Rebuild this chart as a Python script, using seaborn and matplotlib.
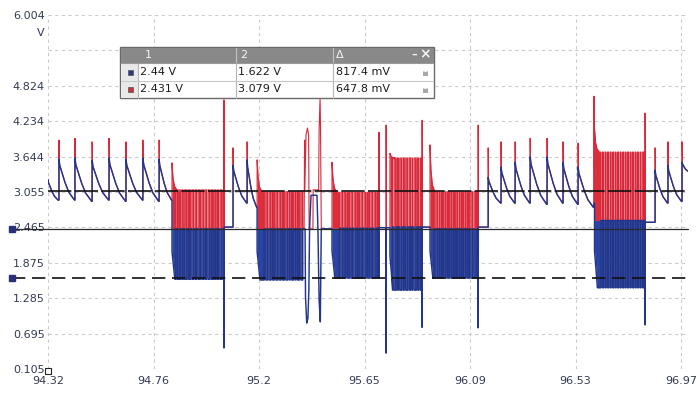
import numpy as np
import pandas as pd
import matplotlib
matplotlib.use("Agg")
import matplotlib.pyplot as plt
from matplotlib.patches import Rectangle, Arc
import seaborn as sns

# ---------------- axis ----------------
x_ticks = [94.32, 94.7625, 95.205, 95.6475, 96.09, 96.5325, 96.975]
x_tick_labels = ["94.32", "94.76", "95.2", "95.65", "96.09", "96.53", "96.97"]
y_ticks = [0.105, 0.695, 1.285, 1.875, 2.465, 3.055, 3.644, 4.234, 4.824, 5.414, 6.004]
y_tick_labels = ["0.105", "0.695", "1.285", "1.875", "2.465", "3.055", "3.644",
                 "4.234", "4.824", "", "6.004"]
x_range = [94.32, 97.004]
y_range = [0.105, 6.004]
y_unit = "V"

# ---------------- cursors ----------------
cursor_ch2_b = 3.079
cursor_a = 2.44
cursor_ch1_b = 1.622

# ---------------- cursor table ----------------
table_head = ["1", "2", "Δ"]
table_ch1 = ["2.44 V", "1.622 V", "817.4 mV"]
table_ch2 = ["2.431 V", "3.079 V", "647.8 mV"]

# ---------------- idle sawtooth teeth ----------------
tooth_peak_t = [94.320, 94.366, 94.433, 94.505, 94.576, 94.647, 94.718, 94.786,
                95.096, 95.155,
                96.166, 96.220, 96.279, 96.342, 96.413, 96.480, 96.543,
                96.866, 96.920, 96.979]
tooth_end_t = [94.362, 94.431, 94.503, 94.574, 94.645, 94.716, 94.784, 94.838,
               95.153, 95.195,
               96.218, 96.277, 96.340, 96.411, 96.478, 96.541, 96.607,
               96.918, 96.976, 97.004]
tooth_red_tip = [3.26, 3.92, 3.95, 3.89, 3.95, 3.89, 3.92, 3.92,
                 3.79, 3.89,
                 3.79, 3.89, 3.89, 3.95, 3.95, 3.89, 3.87,
                 3.79, 3.89, 3.89]
tooth_blue_peak = [3.26, 3.60, 3.62, 3.58, 3.62, 3.60, 3.62, 3.60,
                   3.50, 3.59,
                   3.30, 3.47, 3.55, 3.64, 3.64, 3.55, 3.47,
                   3.42, 3.50, 3.55]
tooth_trough = [2.92, 2.92, 2.90, 2.92, 2.90, 2.92, 2.90, 2.92,
                2.87, 2.80,
                2.87, 2.87, 2.87, 2.85, 2.87, 2.85, 2.80,
                2.87, 2.90, 3.40]
decay_pos = [0.0, 0.05, 0.17, 0.40, 0.64, 1.0]
decay_left = [1.0, 0.85, 0.70, 0.42, 0.19, 0.0]

# ---------------- message bursts ----------------
burst_start = [94.840, 95.197, 95.511, 95.754, 95.922, 96.612]
burst_end = [95.050, 95.388, 95.704, 95.884, 96.119, 96.819]
burst_red_kick = [3.54, 3.59, 3.55, 3.70, 3.84, 4.10]
burst_red_high = [3.09, 3.06, 3.05, 3.62, 3.06, 3.72]
burst_blue_low = [1.60, 1.59, 1.62, 1.42, 1.62, 1.46]
burst_rest = [2.44, 2.44, 2.45, 2.47, 2.44, 2.58]
burst_gaps = [
    [94.860, 94.878, 94.890, 94.906, 94.920, 94.934, 94.946, 94.962, 94.976,
     94.988, 95.002, 95.016, 95.028, 95.038],
    [95.230, 95.244, 95.258, 95.272, 95.286, 95.300, 95.314, 95.328, 95.338,
     95.352, 95.363, 95.377],
    [95.545, 95.559, 95.573, 95.587, 95.600, 95.615, 95.629, 95.642, 95.657,
     95.671, 95.684, 95.699],
    [95.768, 95.783, 95.792, 95.806, 95.817, 95.831, 95.843, 95.852, 95.867,
     95.877],
    [95.943, 95.957, 95.967, 95.981, 95.992, 96.006, 96.017, 96.031, 96.041,
     96.051, 96.065, 96.076, 96.090, 96.104],
    [96.642, 96.653, 96.663, 96.674, 96.684, 96.695, 96.705, 96.716, 96.726,
     96.737, 96.747, 96.758, 96.768, 96.779, 96.789, 96.800, 96.809],
]
gap_width = 0.0065
kick_off = [0.0, 0.004, 0.010, 0.020]
kick_left = [1.0, 0.45, 0.15, 0.0]
blue_settle = 0.012
blue_start_frac = 0.55

# ---------------- glitch spikes ----------------
spike_t = [95.058, 95.708, 95.738, 95.889, 96.124, 96.610, 96.824]
spike_red = [4.59, 4.05, 4.17, 4.25, 4.17, 4.65, 4.37]
spike_blue = [0.455, 1.62, 0.37, 0.80, 0.79, 2.87, 0.84]
spike_after = [2.47, 2.46, 2.46, 2.47, 2.47, 2.87, 2.55]

# ---------------- disturbed section ----------------
glitch_red_t = [95.394, 95.396, 95.397, 95.402, 95.408, 95.413, 95.415, 95.431,
                95.432, 95.455, 95.457, 95.461, 95.463, 95.466, 95.507]
glitch_red_v = [2.44, 3.92, 3.09, 4.00, 4.12, 4.00, 2.44, 2.44,
                3.09, 3.09, 4.09, 4.62, 4.09, 2.44, 2.44]
glitch_blue_t = [95.398, 95.400, 95.405, 95.410, 95.414, 95.417, 95.423, 95.448,
                 95.452, 95.457, 95.462, 95.466, 95.507]
glitch_blue_v = [2.44, 1.30, 0.87, 0.95, 1.42, 2.44, 3.00, 3.00,
                 2.44, 1.25, 0.89, 2.44, 2.44]

# ---------------- colours ----------------
red_line = "#d8283a"
blue_line = "#22368c"
red_fill = "#dd2c3a"
blue_fill = "#2a44a4"
label_col = "#333a55"

# ---------------- build traces ----------------
events = []
for i, t in enumerate(tooth_peak_t):
    events.append((t, 0, "tooth", i))
for i, t in enumerate(burst_start):
    events.append((t, 1, "burst", i))
for i, t in enumerate(spike_t):
    events.append((t, 2, "spike", i))
events.append((glitch_red_t[0], 3, "glitch", 0))
events.sort()

rt, rv, bt, bv = [], [], [], []
fills = []
for _, _, kind, i in events:
    if kind == "tooth":
        t0, t1 = tooth_peak_t[i], tooth_end_t[i]
        pk, tr = tooth_blue_peak[i], tooth_trough[i]
        ts = [t0 + p * (t1 - t0) for p in decay_pos]
        vs = [tr + f * (pk - tr) for f in decay_left]
        if bt:
            bt.append(t0); bv.append(bv[-1])
            rt.append(t0); rv.append(rv[-1])
        bt += ts; bv += vs
        rt += [t0, t0 + 0.0008] + ts[1:]
        rv += [tooth_red_tip[i], pk] + vs[1:]
    elif kind == "burst":
        t0, t1 = burst_start[i], burst_end[i]
        kick, hi = burst_red_kick[i], burst_red_high[i]
        lo, rest = burst_blue_low[i], burst_rest[i]
        g = burst_gaps[i]
        w = gap_width / 2
        r_t = [t0, t0]; r_v = [rv[-1], kick]
        for off, f in zip(kick_off[1:], kick_left[1:]):
            r_t.append(t0 + off); r_v.append(hi + f * (kick - hi))
        b_t = [t0, t0, t0 + blue_settle]
        b_v = [bv[-1], lo + blue_start_frac * (rest - lo), lo]
        for gc in g:
            r_t += [gc - w, gc - w, gc + w, gc + w]; r_v += [hi, rest, rest, hi]
            b_t += [gc - w, gc - w, gc + w, gc + w]; b_v += [lo, rest, rest, lo]
        r_t += [t1, t1]; r_v += [hi, rest]
        b_t += [t1, t1]; b_v += [lo, rest]
        fills.append((r_t, r_v, b_t, b_v, rest))
        rt += r_t; rv += r_v; bt += b_t; bv += b_v
    elif kind == "spike":
        t = spike_t[i]
        rt += [t, t, t + 0.0008]; rv += [rv[-1], spike_red[i], spike_after[i]]
        bt += [t, t, t + 0.0008]; bv += [bv[-1], spike_blue[i], spike_after[i]]
    else:
        rt += glitch_red_t; rv += glitch_red_v
        bt += glitch_blue_t; bv += glitch_blue_v

df_red = pd.DataFrame({"t": rt, "v": rv, "trace": "ch2"})
df_blue = pd.DataFrame({"t": bt, "v": bv, "trace": "ch1"})

# ---------------- figure ----------------
sns.set_style("white")
plt.rcParams["font.family"] = ["DejaVu Sans"]
fig = plt.figure(figsize=(6.99, 3.96), dpi=100)
ax = fig.add_axes([48 / 699, 27 / 396, 640 / 699, 354 / 396])

for r_t, r_v, b_t, b_v, rest in fills:
    ax.fill_between(r_t, rest, r_v, color=red_fill, lw=0, zorder=1.5)
    ax.fill_between(b_t, rest, b_v, color=blue_fill, lw=0, zorder=1.5)

sns.lineplot(data=df_red, x="t", y="v", color=red_line, sort=False,
             estimator=None, lw=0.8, legend=False, ax=ax, zorder=2)
sns.lineplot(data=df_blue, x="t", y="v", color=blue_line, sort=False,
             estimator=None, lw=1.05, legend=False, ax=ax, zorder=2.1)

ax.set_xlim(*x_range)
ax.set_ylim(*y_range)
ax.set_xticks(x_ticks)
ax.set_xticklabels(x_tick_labels)
ax.set_yticks(y_ticks)
ax.set_yticklabels(y_tick_labels)
ax.set_xlabel("")
ax.set_ylabel("")
for s in ax.spines.values():
    s.set_visible(False)
ax.grid(True, color="#cbcbcb", linestyle=(0, (3, 3)), lw=0.8)
ax.tick_params(axis="both", length=0, labelsize=8, colors=label_col)
ax.tick_params(axis="y", pad=2.5)
ax.tick_params(axis="x", pad=5)
ax.set_axisbelow(True)

# cursor lines
ytr = ax.get_yaxis_transform()
ax.plot([0, 1], [cursor_ch2_b, cursor_ch2_b], transform=ytr, color="#111111",
        lw=1.2, linestyle=(0, (14, 2)), zorder=3, clip_on=False)
ax.plot([-0.056, 1], [cursor_a, cursor_a], transform=ytr, color="#2a2a2a",
        lw=0.9, zorder=3, clip_on=False)
ax.plot([-0.056, 1], [cursor_ch1_b, cursor_ch1_b], transform=ytr, color="#111111",
        lw=1.2, linestyle=(0, (8, 4)), zorder=3, clip_on=False)
ax.plot([-0.056, -0.056], [cursor_a, cursor_ch1_b], transform=ytr, ls="none",
        marker="s", ms=4.5, color="#2a2f7a", zorder=4, clip_on=False)
ax.plot([0.0], [0.065], transform=ytr, ls="none", marker="s", ms=5,
        mfc="white", mec="#222222", mew=0.8, zorder=4, clip_on=False)

# unit label
fig.text(45 / 699, 1 - 33 / 396, y_unit, ha="right", va="center",
         fontsize=8, color=label_col)

# ---------------- cursor table (pixel coordinates) ----------------
ov = fig.add_axes([0, 0, 1, 1], zorder=10)
ov.set_xlim(0, 699)
ov.set_ylim(396, 0)
ov.axis("off")
ov.patch.set_alpha(0)

ov.add_patch(Rectangle((120, 47), 314, 51, fc="white", ec="#6a6a6a", lw=1))
ov.add_patch(Rectangle((120.5, 47.5), 313, 15, fc="#898989", ec="none"))
ov.add_patch(Rectangle((120.5, 63), 17, 34.5, fc="#e9e9e9", ec="none"))
for xs in [236, 333]:
    ov.plot([xs, xs], [48, 62], color="#c4c4c4", lw=0.8)
for xs in [138, 236, 333]:
    ov.plot([xs, xs], [63, 97.5], color="#b5b5b5", lw=0.8)
ov.plot([121, 433], [80.5, 80.5], color="#c8c8c8", lw=0.8)
ov.plot([121, 433], [63, 63], color="#9a9a9a", lw=0.8)

for xh, txt in zip([145, 240, 336], table_head):
    ov.text(xh, 55.5, txt, ha="left", va="center", fontsize=8, color="#f4f4f4")
ov.text(414, 54.5, "–", ha="center", va="center", fontsize=8, color="#f4f4f4",
        fontweight="bold")
ov.text(425, 54.5, "×", ha="center", va="center", fontsize=10, color="#f4f4f4",
        fontweight="bold")

for yr, row, col in [(72, table_ch1, "#2b3a80"), (89, table_ch2, "#c8303c")]:
    ov.add_patch(Rectangle((127.5, yr - 2.5), 5, 5, fc=col, ec="#555555", lw=0.5))
    for xc, txt in zip([140, 238, 336], row):
        ov.text(xc, yr, txt, ha="left", va="center", fontsize=8, color="#1c1c1c")
    ov.add_patch(Rectangle((423, yr - 0.5), 5, 4, fc="#a8a8a8", ec="none"))
    ov.add_patch(Arc((425.5, yr - 0.8), 3.4, 4.5, theta1=0, theta2=180,
                     color="#a8a8a8", lw=0.9))

fig.savefig("out.png", dpi=100)
